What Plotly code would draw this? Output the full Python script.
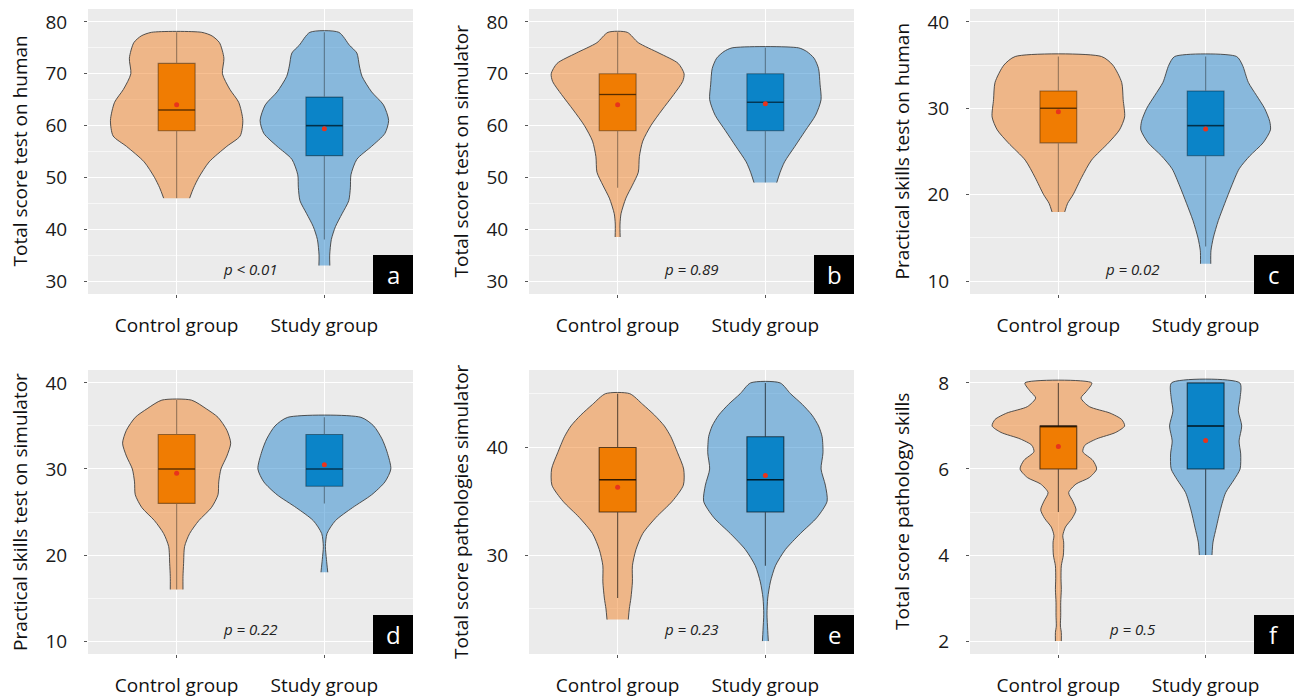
import plotly.graph_objects as go

# ---------------- data ----------------
GROUPS = ["Control group", "Study group"]
PANEL_LETTERS = ["a", "b", "c", "d", "e", "f"]
Y_TITLES = [
    "Total score test on human",
    "Total score test on simulator",
    "Practical skills test on human",
    "Practical skills test on simulator",
    "Total score pathologies simulator",
    "Total score pathology skills",
]
P_LABELS = ["p < 0.01", "p = 0.89", "p = 0.02", "p = 0.22", "p = 0.23", "p = 0.5"]
Y_TICKS = [
    [30, 40, 50, 60, 70, 80],
    [30, 40, 50, 60, 70, 80],
    [10, 20, 30, 40],
    [10, 20, 30, 40],
    [30, 40],
    [2, 4, 6, 8],
]

# box statistics: [lower whisker, Q1, median, Q3, upper whisker]
a_ctrl_box = [46, 59, 63, 72, 78]
a_study_box = [38, 54.2, 60, 65.5, 78]
b_ctrl_box = [48, 59, 66, 70, 78]
b_study_box = [49, 59, 64.5, 70, 75]
c_ctrl_box = [18, 26, 30, 32, 36]
c_study_box = [14, 24.5, 28, 32, 36]
d_ctrl_box = [16, 26, 30, 34, 38]
d_study_box = [26, 28, 30, 34, 36]
e_ctrl_box = [26, 34, 37, 40, 45]
e_study_box = [29, 34, 37, 41, 46]
f_ctrl_box = [5, 6, 7, 7, 8]
f_study_box = [4, 6, 7, 8, 8]

# group means
a_means = [64.0, 59.4]
b_means = [64.0, 64.2]
c_means = [29.6, 27.6]
d_means = [29.5, 30.5]
e_means = [36.3, 37.4]
f_means = [6.52, 6.66]

# violin density profiles (value, half-width in category units)
a_ctrl_vy = [46, 48, 50, 53, 56, 58, 61, 64.5, 67, 70, 73, 76, 77.3, 78]
a_ctrl_vw = [0.088, 0.115, 0.15, 0.22, 0.34, 0.43, 0.448, 0.42, 0.36, 0.31, 0.32, 0.29, 0.24, 0.17]
a_study_vy = [33, 35, 38, 40.5, 43, 45.5, 48, 50.5, 53.5, 56, 58.5, 61, 64, 66.5, 69.5, 71.5, 74, 75.5, 78]
a_study_vw = [0.037, 0.036, 0.047, 0.075, 0.12, 0.165, 0.176, 0.18, 0.22, 0.32, 0.41, 0.435, 0.40, 0.32,
              0.255, 0.237, 0.22, 0.17, 0.098]

b_ctrl_vy = [38.5, 41, 43, 46, 48.5, 51, 54, 57, 60, 63, 66, 68.5, 70, 72, 74, 76, 78]
b_ctrl_vw = [0.017, 0.016, 0.023, 0.056, 0.10, 0.14, 0.147, 0.17, 0.225, 0.30, 0.38, 0.44, 0.45, 0.41,
             0.28, 0.14, 0.065]
b_study_vy = [49, 51, 53, 56, 59, 62, 65, 68, 71, 73, 74.3, 75]
b_study_vw = [0.077, 0.10, 0.13, 0.20, 0.27, 0.34, 0.377, 0.37, 0.36, 0.33, 0.28, 0.225]

c_ctrl_vy = [18, 19, 20, 22, 24, 26, 27.5, 29, 31, 33, 35, 36]
c_ctrl_vw = [0.043, 0.063, 0.10, 0.158, 0.225, 0.34, 0.415, 0.45, 0.44, 0.43, 0.37, 0.293]
c_study_vy = [12, 13.5, 15, 17, 19, 21, 23, 24.5, 26, 27.5, 28.5, 30, 31.5, 33, 35, 36]
c_study_vw = [0.035, 0.036, 0.052, 0.086, 0.13, 0.176, 0.228, 0.30, 0.39, 0.44, 0.435, 0.40, 0.345,
              0.29, 0.25, 0.21]

d_ctrl_vy = [16, 17.5, 19, 21, 22.5, 24, 25.5, 27, 28.5, 30, 31.5, 33, 34.5, 36, 37, 38]
d_ctrl_vw = [0.043, 0.043, 0.047, 0.054, 0.088, 0.15, 0.235, 0.28, 0.285, 0.30, 0.34, 0.366, 0.34,
             0.28, 0.20, 0.10]
d_study_vy = [18, 19.5, 21, 22.5, 24, 25.5, 27, 28.5, 30, 32, 33.5, 35, 36]
d_study_vw = [0.023, 0.014, 0.007, 0.018, 0.075, 0.19, 0.32, 0.41, 0.45, 0.424, 0.39, 0.334, 0.248]

e_ctrl_vy = [24, 25, 26, 27.5, 29, 30.5, 32, 33.5, 35, 36.5, 38, 39.5, 41, 42, 43, 44, 45]
e_ctrl_vw = [0.072, 0.079, 0.09, 0.10, 0.10, 0.124, 0.17, 0.26, 0.37, 0.445, 0.447, 0.406, 0.36,
             0.316, 0.25, 0.17, 0.082]
e_study_vy = [22, 23, 24.5, 26, 27.5, 29, 30.5, 32, 33.5, 35, 36.5, 38, 39.5, 41, 42, 43, 44, 45, 46]
e_study_vw = [0.02, 0.016, 0.011, 0.016, 0.034, 0.068, 0.135, 0.237, 0.35, 0.418, 0.406, 0.377, 0.39,
              0.384, 0.36, 0.316, 0.25, 0.17, 0.10]

f_ctrl_vy = [2.0, 2.2, 2.35, 2.6, 2.9, 3.2, 3.45, 3.75, 4.0, 4.3, 4.45, 4.65, 4.85, 5.05, 5.25, 5.45,
             5.65, 5.8, 6.0, 6.2, 6.4, 6.55, 6.7, 6.85, 7.0, 7.15, 7.3, 7.45, 7.65, 7.8, 8.0]
f_ctrl_vw = [0.02, 0.02, 0.014, 0.016, 0.016, 0.02, 0.018, 0.02, 0.034, 0.036, 0.03, 0.048, 0.093,
             0.12, 0.098, 0.07, 0.12, 0.21, 0.26, 0.234, 0.166, 0.18, 0.26, 0.39, 0.45, 0.43, 0.35,
             0.21, 0.154, 0.19, 0.227]
f_study_vy = [4.0, 4.3, 4.65, 5.05, 5.45, 5.75, 6.0, 6.35, 6.65, 7.0, 7.35, 7.65, 8.0]
f_study_vw = [0.043, 0.05, 0.073, 0.10, 0.136, 0.193, 0.234, 0.238, 0.227, 0.245, 0.222, 0.234, 0.232]

PANELS = [
    dict(boxes=[a_ctrl_box, a_study_box], means=a_means,
         violins=[(a_ctrl_vy, a_ctrl_vw), (a_study_vy, a_study_vw)]),
    dict(boxes=[b_ctrl_box, b_study_box], means=b_means,
         violins=[(b_ctrl_vy, b_ctrl_vw), (b_study_vy, b_study_vw)]),
    dict(boxes=[c_ctrl_box, c_study_box], means=c_means,
         violins=[(c_ctrl_vy, c_ctrl_vw), (c_study_vy, c_study_vw)]),
    dict(boxes=[d_ctrl_box, d_study_box], means=d_means,
         violins=[(d_ctrl_vy, d_ctrl_vw), (d_study_vy, d_study_vw)]),
    dict(boxes=[e_ctrl_box, e_study_box], means=e_means,
         violins=[(e_ctrl_vy, e_ctrl_vw), (e_study_vy, e_study_vw)]),
    dict(boxes=[f_ctrl_box, f_study_box], means=f_means,
         violins=[(f_ctrl_vy, f_ctrl_vw), (f_study_vy, f_study_vw)]),
]

# ---------------- styling / layout ----------------
W, H = 1294, 698
FONT = "Open Sans"
Y_RANGES = [[27.5, 82.5], [27.5, 82.5], [8.5, 41.5], [8.5, 41.5], [20.8, 47.2], [1.7, 8.3]]
X_RANGE = [0.4, 2.6]
MINOR = [(25, 10), (25, 10), (5, 10), (5, 10), (5, 10), (1, 2)]
COL_PX = [(88, 413), (529, 854), (970, 1294)]
ROW_PX = [(9, 294), (370, 654)]
TITLE_X_PX = [20, 461, 902]

VIOLIN_FILL = ["rgba(241,129,37,0.5)", "rgba(37,133,205,0.5)"]
BOX_FILL = ["#F07C02", "#0B84C8"]
BOX_LINE_ALPHA = [0.4, 0.4, 0.4, 0.4, 0.62, 0.62]
MEAN_COLOR = "#E8341C"
BOX_W = 0.25
POS = [1, 2]

fig = go.Figure()
layout = dict(
    width=W, height=H,
    margin=dict(l=0, r=0, t=0, b=0),
    paper_bgcolor="white",
    plot_bgcolor="#EBEBEB",
    showlegend=False,
    font=dict(family=FONT, color="#1a1a1a"),
    shapes=[], annotations=[],
)


def ax_name(k, letter):
    return letter if k == 1 else f"{letter}{k}"


def ax_key(k, letter):
    return f"{letter}axis" if k == 1 else f"{letter}axis{k}"


for i, panel in enumerate(PANELS):
    n = i + 1
    m = i + 7  # overlay axes (drawn above the violins) for boxes and means
    xa, ya = ax_name(n, "x"), ax_name(n, "y")
    xo, yo = ax_name(m, "x"), ax_name(m, "y")
    row, col = divmod(i, 3)
    x0p, x1p = COL_PX[col]
    y0p, y1p = ROW_PX[row]
    xdom = [x0p / W, x1p / W]
    ydom = [1 - y1p / H, 1 - y0p / H]
    box_line = f"rgba(0,0,0,{BOX_LINE_ALPHA[i]})"

    for g in range(2):
        vy, vw = panel["violins"][g]
        c = POS[g]
        xs = [c - w for w in vw] + [c + w for w in reversed(vw)]
        ys = list(vy) + list(reversed(vy))
        fig.add_trace(go.Scatter(
            x=xs, y=ys, mode="lines", fill="toself", fillcolor=VIOLIN_FILL[g],
            line=dict(color="#404040", width=0.9, shape="spline", smoothing=0.7),
            hoverinfo="skip", xaxis=xa, yaxis=ya))
    for g in range(2):
        c = POS[g]
        b = panel["boxes"][g]
        fig.add_trace(go.Box(
            x=[c], lowerfence=[b[0]], q1=[b[1]], median=[b[2]], q3=[b[3]], upperfence=[b[4]],
            orientation="v", width=BOX_W, whiskerwidth=0, boxpoints=False,
            fillcolor=BOX_FILL[g], line=dict(color=box_line, width=1.1),
            hoverinfo="skip", xaxis=xo, yaxis=yo))
        # emphasised median line
        fig.add_trace(go.Scatter(
            x=[c - BOX_W / 2, c + BOX_W / 2], y=[b[2], b[2]], mode="lines",
            line=dict(color=box_line, width=1.6), hoverinfo="skip", xaxis=xo, yaxis=yo))
        fig.add_trace(go.Scatter(
            x=[c], y=[panel["means"][g]], mode="markers",
            marker=dict(color=MEAN_COLOR, size=5, line=dict(width=0)),
            hoverinfo="skip", xaxis=xo, yaxis=yo))

    layout[ax_key(n, "x")] = dict(
        domain=xdom, anchor=ya, range=X_RANGE,
        tickmode="array", tickvals=POS, ticktext=GROUPS,
        showgrid=True, gridcolor="white", gridwidth=1.1, zeroline=False, showline=False,
        ticks="outside", ticklen=3, tickwidth=1, tickcolor="#555555",
        tickfont=dict(family=FONT, size=19, color="#111111"), ticklabelstandoff=11,
        fixedrange=True)
    t0, dt = MINOR[i]
    layout[ax_key(n, "y")] = dict(
        domain=ydom, anchor=xa, range=Y_RANGES[i],
        tickmode="array", tickvals=Y_TICKS[i],
        showgrid=True, gridcolor="white", gridwidth=1.1, zeroline=False, showline=False,
        minor=dict(tickmode="linear", tick0=t0, dtick=dt, showgrid=True,
                   gridcolor="rgba(255,255,255,0.6)", gridwidth=0.6),
        ticks="outside", ticklen=3, tickwidth=1, tickcolor="#555555",
        tickfont=dict(family=FONT, size=19, color="#1a1a1a"), ticklabelstandoff=13,
        fixedrange=True)
    layout[ax_key(m, "x")] = dict(
        domain=xdom, anchor=yo, overlaying=xa, range=X_RANGE, visible=False, fixedrange=True)
    layout[ax_key(m, "y")] = dict(
        domain=ydom, anchor=xo, overlaying=ya, range=Y_RANGES[i], visible=False, fixedrange=True)

    # y-axis title
    layout["annotations"].append(dict(
        text=Y_TITLES[i], textangle=-90, xref="paper", yref="paper",
        x=TITLE_X_PX[col] / W, y=1 - (y0p + y1p) / 2 / H, xanchor="center", yanchor="middle",
        showarrow=False, font=dict(family=FONT, size=19, color="#111111")))
    # p-value
    layout["annotations"].append(dict(
        text=P_LABELS[i], xref="paper", yref="paper",
        x=(x0p + x1p) / 2 / W, y=1 - (y1p - 25) / H, xanchor="center", yanchor="middle",
        showarrow=False, font=dict(family=FONT, size=15, color="#222222", style="italic")))
    # panel letter box
    layout["shapes"].append(dict(
        type="rect", xref="paper", yref="paper",
        x0=(x1p - 40) / W, x1=x1p / W, y0=1 - y1p / H, y1=1 - (y1p - 39) / H,
        fillcolor="black", line=dict(width=0), layer="above"))
    layout["annotations"].append(dict(
        text=PANEL_LETTERS[i], xref="paper", yref="paper",
        x=(x1p - 20) / W, y=1 - (y1p - 20) / H, xanchor="center", yanchor="middle",
        showarrow=False, font=dict(family=FONT, size=24, color="white")))

fig.update_layout(**layout)
fig.write_html("out.html", config=dict(displayModeBar=False))
